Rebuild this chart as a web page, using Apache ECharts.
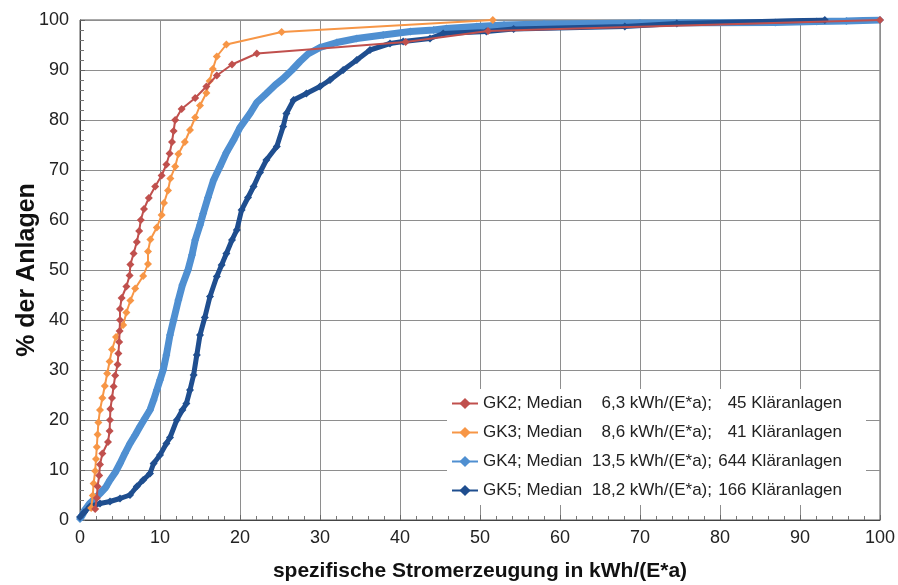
<!DOCTYPE html>
<html><head><meta charset="utf-8">
<script src="https://cdn.jsdelivr.net/npm/echarts@6/dist/echarts.min.js"></script>
<style>html,body{margin:0;padding:0;background:#fff}#c{width:898px;height:585px}</style>
</head><body><div id="c"></div>
<script>
const groups = ['GK2', 'GK3', 'GK4', 'GK5'];
const medians = ['6,3', '8,6', '13,5', '18,2'];
const counts = ['45', '41', '644', '166'];
const colors = ['#c0504d', '#f79646', '#4f8fd1', '#1f4e8f'];

const gk2 = [[1.9,2.2],[2.1,4.4],[2.2,6.7],[2.4,8.9],[2.5,11.1],[2.8,13.3],[3.5,15.6],[3.7,17.8],[3.75,20.0],[3.8,22.2],[4.0,24.4],[4.2,26.7],[4.4,28.9],[4.7,31.1],[4.8,33.3],[4.9,35.6],[4.95,37.8],[5.0,40.0],[5.0,42.2],[5.2,44.4],[5.8,46.7],[6.2,48.9],[6.3,51.1],[6.7,53.3],[7.1,55.6],[7.4,57.8],[7.6,60.0],[8.0,62.2],[8.6,64.4],[9.4,66.7],[10.2,68.9],[10.8,71.1],[11.2,73.3],[11.5,75.6],[11.7,77.8],[11.9,80.0],[12.7,82.2],[14.4,84.4],[15.8,86.7],[17.1,88.9],[19.0,91.1],[22.1,93.3],[40.7,95.6],[51.0,97.8],[100,100]];
const gk3 = [[1.4,2.4],[1.6,4.9],[1.7,7.3],[1.9,9.8],[2.0,12.2],[2.1,14.6],[2.2,17.1],[2.3,19.5],[2.5,22.0],[2.8,24.4],[3.1,26.8],[3.4,29.3],[3.7,31.7],[4.0,34.1],[4.5,36.6],[5.4,39.0],[5.8,41.5],[6.3,43.9],[6.9,46.3],[7.9,48.8],[8.5,51.2],[8.5,53.7],[8.8,56.1],[9.6,58.5],[10.2,61.0],[10.5,63.4],[11.0,65.9],[11.3,68.3],[11.9,70.7],[12.3,73.2],[13.1,75.6],[13.75,78.0],[14.4,80.5],[15.0,82.9],[15.8,85.4],[16.2,87.8],[16.6,90.2],[17.1,92.7],[18.3,95.1],[25.2,97.6],[51.6,100]];
const gk4 = [[0,0.2],[0.3,1],[0.6,2],[1.2,3.3],[2.0,4.5],[2.5,5.3],[3.2,6.5],[3.75,8],[4.4,9.5],[5.0,11.3],[5.6,13.3],[6.25,15.3],[6.9,17],[7.5,18.7],[8.1,20.3],[8.75,22],[9.2,24],[9.6,26],[10.0,28],[10.4,30],[10.8,33],[11.25,37],[11.7,40],[12.3,44],[12.8,47],[13.5,50],[14.0,53],[14.4,56],[15.0,59],[15.4,61.3],[16.0,64.5],[16.7,68],[17.5,70.7],[18.3,73.5],[19.2,76],[20.0,78.5],[21.25,81.3],[22.1,83.5],[23.3,85.3],[24.4,87],[25.4,88.3],[26.5,90],[27.5,91.7],[28.5,93.2],[30.0,94.5],[32.1,95.5],[34.6,96.3],[37.9,97],[41.3,97.7],[44.2,98],[45.8,98.3],[49.6,98.7],[53,99.0],[58,99.2],[70,99.4],[86.9,99.5],[92.1,99.7],[95.8,99.8],[100,100]];
const gk5 = [[0,0.6],[0.5,1.5],[1.25,2.7],[2.5,3.3],[3.75,3.7],[5.0,4.3],[6.25,5],[7.1,6.7],[7.9,8],[8.75,9.3],[9.2,11.3],[10.0,13],[10.8,15.3],[11.25,16.5],[12.1,20],[12.8,22],[13.3,23.3],[13.75,26],[14.2,29],[14.6,33],[15.0,37],[15.6,40.5],[16.25,44.7],[17.1,48.7],[17.7,51],[18.3,53.3],[19.0,56],[19.6,58],[20.2,62],[21.0,64.5],[21.7,66.7],[22.5,69.5],[23.3,72],[24.6,74.7],[25.4,78.7],[25.8,81.3],[26.7,84],[28.3,85.3],[30.0,86.7],[31.25,88],[32.9,90],[34.6,92],[36.25,94],[38.75,95.3],[40.4,95.7],[43.75,96.3],[45.4,97.3],[50.8,97.7],[54.2,98.2],[68.1,98.7],[74.6,99.3],[93.1,100]];

const xTitle = 'spezifische Stromerzeugung in kWh/(E*a)';
const yTitle = '% der Anlagen';

const seriesData = [gk2, gk3, gk4, gk5];
const lineWidths = [2, 2, 7, 5];
const symSizes = [8, 8, 8, 8];

const chart = echarts.init(document.getElementById('c'), null, {renderer: 'canvas'});
const font = 'Liberation Sans, Arial, sans-serif';
const txt = {fontFamily: font, fontSize: 17, color: '#222', lineHeight: 14};
chart.setOption({
  animation: false,
  backgroundColor: '#fff',
  grid: {left: 80, right: 18, top: 20, bottom: 65, show: true, borderColor: '#555', borderWidth: 1,
         containLabel: false, outerBoundsMode: 'none'},
  legend: {
    orient: 'vertical', left: 447, top: 389, itemGap: 12, itemWidth: 26, itemHeight: 14,
    backgroundColor: '#fff', padding: [6, 24, 6, 4],
    data: groups,
    formatter: function (name) {
      const i = groups.indexOf(name);
      return '{a|' + name + '; Median}{b|' + medians[i] + ' kWh/(E*a);}{c|' + counts[i] + ' Kläranlagen}';
    },
    textStyle: Object.assign({}, txt, {
      rich: {
        a: Object.assign({}, txt, {width: 102}),
        b: Object.assign({}, txt, {width: 127, align: 'right'}),
        c: Object.assign({}, txt, {width: 130, align: 'right'})
      }
    })
  },
  xAxis: {
    type: 'value', min: 0, max: 100, interval: 10,
    name: xTitle, nameLocation: 'middle', nameGap: 41, nameMoveOverlap: false,
    nameTextStyle: {fontFamily: font, fontSize: 21, fontWeight: 'bold', color: '#111'},
    axisLine: {show: true, lineStyle: {color: '#444', width: 1}},
    axisTick: {show: true, inside: true, length: 5, lineStyle: {color: '#666'}},
    minorTick: {show: true, splitNumber: 5, length: 4, lineStyle: {color: '#777'}},
    axisLabel: {fontFamily: font, fontSize: 18, color: '#222', margin: 9},
    splitLine: {show: true, lineStyle: {color: '#8e8e8e', width: 1}}
  },
  yAxis: {
    type: 'value', min: 0, max: 100, interval: 10,
    name: yTitle, nameLocation: 'middle', nameGap: 40, nameMoveOverlap: false,
    nameTextStyle: {fontFamily: font, fontSize: 25, fontWeight: 'bold', color: '#111'},
    axisLine: {show: true, lineStyle: {color: '#444', width: 1}},
    axisTick: {show: true, inside: true, length: 5, lineStyle: {color: '#666'}},
    minorTick: {show: true, splitNumber: 5, length: 4, lineStyle: {color: '#777'}},
    axisLabel: {fontFamily: font, fontSize: 18, color: '#222', margin: 11},
    splitLine: {show: true, lineStyle: {color: '#8e8e8e', width: 1}}
  },
  series: groups.map((g, i) => ({
    name: g, type: 'line', data: seriesData[i],
    symbol: 'diamond', symbolSize: symSizes[i], showSymbol: true,
    color: colors[i],
    lineStyle: {color: colors[i], width: lineWidths[i]},
    itemStyle: {color: colors[i]},
    z: 2 + (i === 0 ? 3 : i === 1 ? 2 : i === 3 ? 1 : 0)
  }))
});
</script></body></html>
